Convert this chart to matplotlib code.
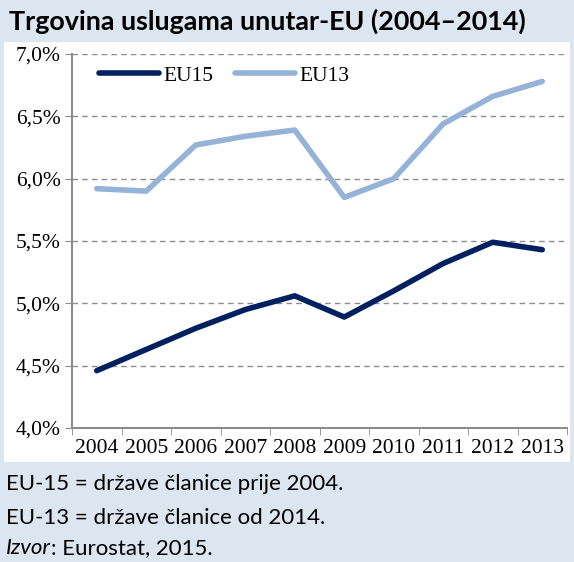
import matplotlib.pyplot as plt
from matplotlib.patches import Rectangle
import numpy as np

years = ['2004', '2005', '2006', '2007', '2008', '2009', '2010', '2011', '2012', '2013']
eu15 = [4.46, 4.63, 4.80, 4.95, 5.06, 4.89, 5.10, 5.32, 5.49, 5.43]
eu13 = [5.92, 5.90, 6.27, 6.34, 6.39, 5.85, 6.00, 6.44, 6.66, 6.78]
yticks = [4.0, 4.5, 5.0, 5.5, 6.0, 6.5, 7.0]

W, H = 574, 562
fig = plt.figure(figsize=(W / 100, H / 100), dpi=100)
fig.patch.set_facecolor('#dce6f1')
# white chart area
fig.add_artist(Rectangle((4 / W, 1 - 462 / H), 566 / W, 420 / H,
                         transform=fig.transFigure, facecolor='white',
                         edgecolor='none', zorder=0))

ax = fig.add_axes([72 / W, 1 - 428 / H, 495 / W, 374 / H])
ax.set_facecolor('none')
x = np.arange(len(years))
ax.plot(x, eu15, color='#002060', lw=4, solid_capstyle='round', label='EU15')
ax.plot(x, eu13, color='#95b3d7', lw=4, solid_capstyle='round', label='EU13')

ax.set_xlim(-0.5, len(years) - 0.5)
ax.set_ylim(4.0, 7.0)
ax.set_yticks(yticks)
ax.set_yticklabels([f'{v:.1f}%'.replace('.', ',') for v in yticks],
                   family='Liberation Serif', fontsize=15.5)
for v in yticks[1:]:
    ax.axhline(v, color='#8c8c8c', lw=1, ls=(0, (4, 3)), zorder=0)

ax.set_xticks(x)
ax.set_xticklabels(years, family='Liberation Serif', fontsize=15.5)
ax.set_xticks(np.arange(-0.5, len(years)), minor=True)
ax.tick_params(axis='x', which='major', length=0, pad=8)
ax.tick_params(axis='x', which='minor', length=5, color='#8c8c8c', direction='out')
ax.tick_params(axis='y', length=5, color='#8c8c8c', direction='out', pad=3)

for s in ['top', 'right']:
    ax.spines[s].set_visible(False)
for s in ['left', 'bottom']:
    ax.spines[s].set_color('#8c8c8c')
    ax.spines[s].set_linewidth(1.5)

ax.legend(loc='center left', bbox_to_anchor=(0.032, 0.942), ncol=2, frameon=False,
          prop={'family': 'Liberation Serif', 'size': 15.5}, borderpad=0,
          handlelength=2.8, columnspacing=1.0, handletextpad=0.2)

fig.text(9 / W, 1 - 21 / H, 'Trgovina uslugama unutar-EU (2004–2014)',
         family='Lato', fontweight='bold', fontsize=19.4, va='center', ha='left')
fig.text(6 / W, 1 - 484 / H, 'EU-15 = države članice prije 2004.',
         family='Lato', fontsize=16, va='center')
fig.text(6 / W, 1 - 518 / H, 'EU-13 = države članice od 2014.',
         family='Lato', fontsize=16, va='center')
src = fig.text(6 / W, 1 - 548 / H, 'Izvor', family='Lato', style='italic',
               fontsize=16, va='center')
fig.canvas.draw()
bb = src.get_window_extent()
fig.text(bb.x1 / W, 1 - 548 / H, ': Eurostat, 2015.', family='Lato',
         fontsize=16, va='center')

fig.savefig('out.png', dpi=100, facecolor=fig.get_facecolor())
